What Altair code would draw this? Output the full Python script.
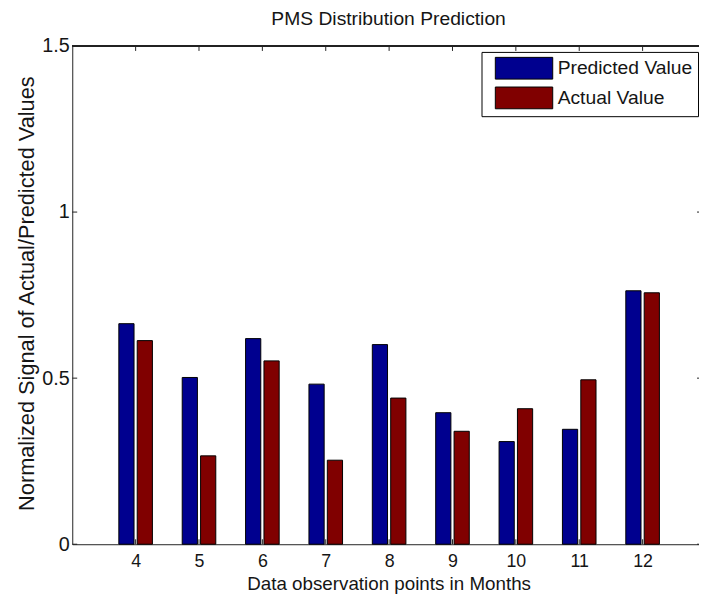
import altair as alt
import pandas as pd

months = [4, 5, 6, 7, 8, 9, 10, 11, 12]
predicted = [0.664, 0.502, 0.619, 0.482, 0.601, 0.396, 0.309, 0.346, 0.763]
actual = [0.613, 0.266, 0.552, 0.253, 0.440, 0.340, 0.408, 0.495, 0.757]
series_names = ["Predicted Value", "Actual Value"]
series_colors = ["#00008F", "#800000"]
y_ticks = [0, 0.5, 1, 1.5]
x_domain = [3, 12.89]
y_domain = [0, 1.5]

W, H = 634, 504
FONT = "Liberation Sans"
LINE = "#222222"
TXT = "#151515"
XT = "Data observation points in Months"
YT = "Normalized Signal of Actual/Predicted Values"

rows = []
for m, p, a in zip(months, predicted, actual):
    rows.append({"month": m, "series": series_names[0], "value": p, "slot": -1})
    rows.append({"month": m, "series": series_names[1], "value": a, "slot": 1})
bars_df = pd.DataFrame(rows)
xt_df = pd.DataFrame({"month": months})
yt_df = pd.DataFrame({"v": y_ticks})

x_scale = alt.Scale(domain=x_domain, nice=False, zero=False)
y_scale = alt.Scale(domain=y_domain, nice=False)

x_axis = alt.Axis(
    values=months, format="d", ticks=False, grid=False,
    domainColor=LINE, domainWidth=1,
    labelFont=FONT, labelFontSize=18, labelColor=TXT, labelPadding=9,
    titleFont=FONT, titleFontSize=19, titleFontWeight="normal", titleColor=TXT,
    titleX=320, titleY=40, titleBaseline="middle", titleAlign="center")
y_axis = alt.Axis(
    values=y_ticks, format="~g", ticks=False, grid=False,
    domainColor=LINE, domainWidth=1,
    labelFont=FONT, labelFontSize=20, labelColor=TXT, labelPadding=3,
    titleFont=FONT, titleFontSize=22, titleFontWeight="normal", titleColor=TXT,
    titleAngle=270, titleX=-46, titleY=250, titleBaseline="middle", titleAlign="center")

bars = alt.Chart(bars_df).transform_calculate(
    x0="datum.month + datum.slot * 0.145 - 0.12",
    x1="datum.month + datum.slot * 0.145 + 0.12",
).mark_bar(stroke="black", strokeWidth=1).encode(
    x=alt.X("x0:Q", scale=x_scale, axis=x_axis, title=XT),
    x2="x1:Q",
    y=alt.Y("value:Q", scale=y_scale, axis=y_axis, title=YT),
    y2=alt.datum(0),
    color=alt.Color("series:N", scale=alt.Scale(domain=series_names, range=series_colors),
                    title=None,
                    legend=alt.Legend(
                        orient="none", legendX=414, legendY=6,
                        symbolType="M-2.64,-1H2.64V1H-2.64Z", symbolSize=484,
                        symbolStrokeColor="black", symbolStrokeWidth=1,
                        symbolOffset=26.5, labelOffset=22.5, rowPadding=3,
                        labelFont=FONT, labelFontSize=19.5, labelColor=TXT,
                        strokeColor="black", fillColor="white", padding=5)),
)

tick_b = alt.Chart(xt_df).mark_rule(color=LINE, strokeWidth=1).encode(
    x=alt.X("month:Q", scale=x_scale, axis=x_axis, title=XT), y=alt.value(H), y2=alt.value(H - 5))
tick_t = alt.Chart(xt_df).mark_rule(color=LINE, strokeWidth=1).encode(
    x=alt.X("month:Q", scale=x_scale, axis=x_axis, title=XT), y=alt.value(0), y2=alt.value(5))
tick_l = alt.Chart(yt_df).mark_rule(color=LINE, strokeWidth=1).encode(
    y=alt.Y("v:Q", scale=y_scale, axis=y_axis, title=YT), x=alt.value(0), x2=alt.value(5))
tick_r = alt.Chart(yt_df).mark_rule(color=LINE, strokeWidth=1).encode(
    y=alt.Y("v:Q", scale=y_scale, axis=y_axis, title=YT), x=alt.value(W - 2), x2=alt.value(W))
top_line = alt.Chart(xt_df).mark_rule(color=LINE, strokeWidth=1).encode(
    x=alt.value(0), x2=alt.value(W), y=alt.value(0))

chart = alt.layer(bars, tick_b, tick_t, tick_l, tick_r, top_line).properties(
    width=W, height=H,
    autosize=alt.AutoSizeParams(type="none"),
    padding={"left": 65, "top": 35, "right": 0, "bottom": 54},
    background="white",
    title=alt.TitleParams(
        "PMS Distribution Prediction", font=FONT, fontSize=19.5, fontWeight="normal",
        color=TXT, anchor="middle", dx=3, offset=7),
).configure_view(stroke=None)

chart.save("out.html", embed_options={"renderer": "svg", "actions": False})
